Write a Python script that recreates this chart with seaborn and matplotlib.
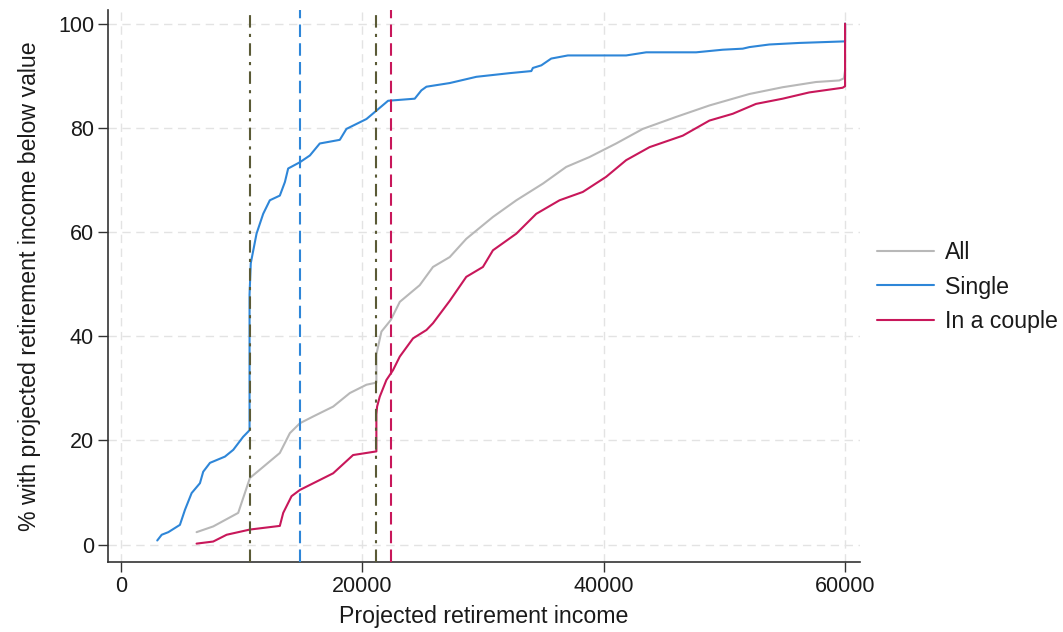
import matplotlib
matplotlib.use("Agg")
import matplotlib.pyplot as plt
from matplotlib.lines import Line2D
import seaborn as sns
import pandas as pd

# ---- data ----
single_x = [3000, 3370, 3920, 4880, 5300, 5850, 6540, 6810, 7370, 8610, 9300, 10120, 10540,
            10650, 10650, 10750, 11230, 11780, 12330, 13160, 13580, 13850, 14820, 15650, 16470,
            18130, 18680, 20340, 21160, 22130, 24340, 24890, 25310, 27240, 29450, 32200, 34000,
            34130, 34830, 35650, 37030, 41860, 43520, 47660, 49870, 51520, 52070, 53720, 56210,
            60000, 60000]
single_y = [0.8, 1.9, 2.4, 3.8, 6.7, 9.9, 11.8, 14.0, 15.7, 16.9, 18.2, 20.7, 21.7,
            22.0, 48.0, 54.0, 59.7, 63.5, 66.1, 67.0, 69.6, 72.2, 73.4, 74.7, 77.0,
            77.7, 79.8, 81.7, 83.3, 85.2, 85.6, 87.2, 87.9, 88.6, 89.8, 90.5, 90.9,
            91.5, 92.0, 93.3, 93.9, 93.9, 94.5, 94.5, 95.0, 95.2, 95.5, 96.0, 96.3,
            96.6, 100.0]

all_x = [6260, 7640, 9710, 10680, 11510, 13160, 13990, 14820, 15920, 17580, 18960, 20340,
         21160, 21160, 21300, 21580, 22350, 23100, 24750, 25850, 27240, 28610, 30820, 32760,
         34960, 36890, 38820, 41030, 43240, 46000, 48760, 52070, 54830, 57590, 59520, 59900,
         60000, 60000]
all_y = [2.4, 3.5, 6.1, 12.8, 14.4, 17.6, 21.4, 23.3, 24.6, 26.5, 29.1, 30.7,
         31.1, 36.5, 38.0, 40.9, 43.1, 46.6, 49.8, 53.3, 55.2, 58.7, 62.9, 66.1,
         69.3, 72.5, 74.4, 77.0, 79.8, 82.1, 84.3, 86.5, 87.8, 88.8, 89.1, 89.5,
         91.0, 100.0]

couple_x = [6260, 7640, 8750, 10680, 13160, 13440, 14130, 14820, 16200, 17580, 19230, 21160,
            21160, 21220, 21440, 21990, 22540, 23100, 24200, 25310, 25850, 27240, 28610, 29990,
            30820, 32760, 34410, 36340, 38270, 40200, 41860, 43800, 46550, 48760, 50690, 52620,
            54830, 57030, 59800, 60000, 60000]
couple_y = [0.2, 0.6, 1.9, 2.9, 3.6, 6.1, 9.3, 10.5, 12.1, 13.7, 17.2, 17.9,
            25.0, 26.5, 28.4, 31.6, 33.5, 36.1, 39.6, 41.2, 42.5, 46.8, 51.4, 53.3,
            56.5, 59.7, 63.5, 66.1, 67.7, 70.6, 73.8, 76.3, 78.5, 81.4, 82.7, 84.6,
            85.6, 86.8, 87.7, 88.0, 100.0]

groups = ["All", "Single", "In a couple"]
# reference lines (x positions)
ref_lines = [10650, 14870, 21160, 22350]

x_ticks = [0, 20000, 40000, 60000]
y_ticks = [0, 20, 40, 60, 80, 100]

colors = {"All": "#b8b8b8", "Single": "#2e86d8", "In a couple": "#c8175a"}
ref_styles = [("#5a5a36", (0, (6, 3, 1.5, 3))), ("#2e86d8", (0, (6, 3))),
              ("#5a5a36", (0, (6, 3, 1.5, 3))), ("#c8175a", (0, (6, 3)))]

df = pd.concat([
    pd.DataFrame({"income": all_x, "pct": all_y, "group": "All"}),
    pd.DataFrame({"income": single_x, "pct": single_y, "group": "Single"}),
    pd.DataFrame({"income": couple_x, "pct": couple_y, "group": "In a couple"}),
], ignore_index=True)

sns.set_style("white")
plt.rcParams["font.family"] = ["Liberation Sans", "DejaVu Sans"]
plt.rcParams["text.color"] = "#1a1a1a"
plt.rcParams["xtick.labelcolor"] = "#1a1a1a"
plt.rcParams["ytick.labelcolor"] = "#1a1a1a"
plt.rcParams["axes.labelcolor"] = "#1a1a1a"

fig = plt.figure(figsize=(10.63, 6.32), dpi=100)
ax = fig.add_axes([0.1016, 0.111, 0.707, 0.873])

# grid
for xv in x_ticks:
    ax.axvline(xv, color="#e3e3e3", lw=1.0, ls=(0, (6, 4)), zorder=0)
for yv in y_ticks:
    ax.axhline(yv, color="#e3e3e3", lw=1.0, ls=(0, (6, 4)), zorder=0)

sns.lineplot(data=df, x="income", y="pct", hue="group", hue_order=groups,
             palette=colors, estimator=None, sort=False, lw=1.5, ax=ax, legend=False)

for xv, (c, ls) in zip(ref_lines, ref_styles):
    ax.axvline(xv, color=c, lw=1.5, ls=ls, zorder=3)

ax.set_xlim(-1080, 61200)
ax.set_ylim(-3.3, 102.6)
ax.set_xticks(x_ticks)
ax.set_yticks(y_ticks)
ax.tick_params(axis="both", labelsize=15.5, length=7, width=1, color="#333333",
               direction="out", left=True, bottom=True, pad=3)
for s in ["top", "right"]:
    ax.spines[s].set_visible(False)
for s in ["left", "bottom"]:
    ax.spines[s].set_color("#333333")
    ax.spines[s].set_linewidth(1.2)

ax.set_xlabel("Projected retirement income", fontsize=16.7, labelpad=6)
ax.set_ylabel("% with projected retirement income below value", fontsize=16.7, labelpad=12)

handles = [Line2D([0], [0], color=colors[g], lw=1.5) for g in groups]
ax.legend(handles, groups, loc="center left", bbox_to_anchor=(0.996, 0.498),
          frameon=False, fontsize=16.7, handlelength=2.45, labelspacing=0.48,
          handletextpad=0.45)

fig.savefig("out.png", dpi=100)
